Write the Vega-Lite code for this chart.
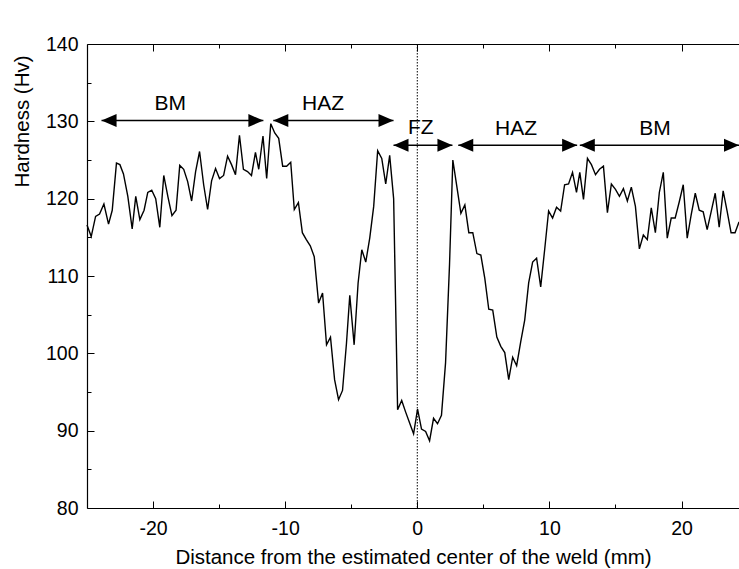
{
  "$schema": "https://vega.github.io/schema/vega-lite/v6.json",
  "width": 652,
  "height": 464,
  "autosize": {"type": "none"},
  "padding": {"left": 87, "top": 44, "right": 0, "bottom": 61},
  "background": "white",
  "config": {"font": "Liberation Sans", "view": {"stroke": null}},
  "resolve": {"axis": {"x": "independent", "y": "independent"}},
  "datasets": {
    "hardness": [
      {"x": -25.0, "h": 116.6}, {"x": -24.68, "h": 115.1}, {"x": -24.35, "h": 117.7}, {"x": -24.05, "h": 118.0},
      {"x": -23.72, "h": 119.3}, {"x": -23.37, "h": 116.7}, {"x": -23.09, "h": 118.5}, {"x": -22.77, "h": 124.6},
      {"x": -22.51, "h": 124.4}, {"x": -22.24, "h": 123.2}, {"x": -21.91, "h": 120.3}, {"x": -21.58, "h": 116.1},
      {"x": -21.31, "h": 120.3}, {"x": -21.0, "h": 117.3}, {"x": -20.68, "h": 118.5}, {"x": -20.4, "h": 120.8},
      {"x": -20.1, "h": 121.1}, {"x": -19.8, "h": 120.0}, {"x": -19.49, "h": 116.3}, {"x": -19.19, "h": 123.0},
      {"x": -18.87, "h": 120.2}, {"x": -18.57, "h": 117.8}, {"x": -18.26, "h": 118.5}, {"x": -17.98, "h": 124.3},
      {"x": -17.68, "h": 123.8}, {"x": -17.38, "h": 122.2}, {"x": -17.08, "h": 119.7}, {"x": -16.78, "h": 123.5},
      {"x": -16.48, "h": 126.1}, {"x": -16.17, "h": 121.8}, {"x": -15.87, "h": 118.6}, {"x": -15.57, "h": 122.3},
      {"x": -15.27, "h": 123.9}, {"x": -14.97, "h": 122.6}, {"x": -14.66, "h": 123.0}, {"x": -14.36, "h": 125.5},
      {"x": -14.06, "h": 124.4}, {"x": -13.76, "h": 123.1}, {"x": -13.46, "h": 128.2}, {"x": -13.16, "h": 123.8},
      {"x": -12.85, "h": 123.5}, {"x": -12.55, "h": 123.0}, {"x": -12.25, "h": 126.0}, {"x": -12.0, "h": 123.8},
      {"x": -11.68, "h": 128.1}, {"x": -11.4, "h": 122.6}, {"x": -11.09, "h": 129.7}, {"x": -10.79, "h": 128.5},
      {"x": -10.49, "h": 127.8}, {"x": -10.19, "h": 124.2}, {"x": -9.89, "h": 124.2}, {"x": -9.58, "h": 124.7},
      {"x": -9.31, "h": 118.6}, {"x": -9.0, "h": 119.5}, {"x": -8.7, "h": 115.6}, {"x": -8.4, "h": 114.7},
      {"x": -8.1, "h": 113.9}, {"x": -7.8, "h": 112.5}, {"x": -7.47, "h": 106.5}, {"x": -7.17, "h": 107.8},
      {"x": -6.87, "h": 101.1}, {"x": -6.57, "h": 102.1}, {"x": -6.26, "h": 96.6}, {"x": -5.96, "h": 94.0},
      {"x": -5.66, "h": 95.2}, {"x": -5.36, "h": 101.3}, {"x": -5.11, "h": 107.5}, {"x": -4.78, "h": 101.1},
      {"x": -4.48, "h": 109.1}, {"x": -4.2, "h": 113.4}, {"x": -3.9, "h": 111.8}, {"x": -3.6, "h": 114.9},
      {"x": -3.3, "h": 119.0}, {"x": -3.0, "h": 126.2}, {"x": -2.69, "h": 125.2}, {"x": -2.39, "h": 121.9},
      {"x": -2.09, "h": 125.6}, {"x": -1.79, "h": 120.0}, {"x": -1.49, "h": 92.7}, {"x": -1.18, "h": 93.9},
      {"x": -0.88, "h": 92.4}, {"x": -0.58, "h": 91.0}, {"x": -0.28, "h": 89.6}, {"x": 0.02, "h": 92.8},
      {"x": 0.32, "h": 90.2}, {"x": 0.63, "h": 89.9}, {"x": 0.93, "h": 88.7}, {"x": 1.23, "h": 91.6},
      {"x": 1.53, "h": 90.9}, {"x": 1.83, "h": 92.0}, {"x": 2.14, "h": 98.8}, {"x": 2.44, "h": 111.5},
      {"x": 2.69, "h": 125.0}, {"x": 3.0, "h": 121.5}, {"x": 3.3, "h": 118.1}, {"x": 3.6, "h": 119.2},
      {"x": 3.9, "h": 115.6}, {"x": 4.2, "h": 115.6}, {"x": 4.51, "h": 112.9}, {"x": 4.81, "h": 112.7},
      {"x": 5.11, "h": 109.7}, {"x": 5.41, "h": 105.7}, {"x": 5.71, "h": 105.6}, {"x": 6.02, "h": 102.1},
      {"x": 6.32, "h": 100.9}, {"x": 6.62, "h": 100.1}, {"x": 6.92, "h": 96.6}, {"x": 7.22, "h": 99.5},
      {"x": 7.52, "h": 98.4}, {"x": 7.83, "h": 101.5}, {"x": 8.13, "h": 104.3}, {"x": 8.43, "h": 109.1},
      {"x": 8.73, "h": 111.8}, {"x": 9.03, "h": 112.3}, {"x": 9.34, "h": 108.6}, {"x": 9.64, "h": 113.4},
      {"x": 9.94, "h": 118.4}, {"x": 10.24, "h": 117.5}, {"x": 10.54, "h": 118.9}, {"x": 10.85, "h": 118.4},
      {"x": 11.15, "h": 121.8}, {"x": 11.45, "h": 121.9}, {"x": 11.75, "h": 123.4}, {"x": 12.05, "h": 120.8},
      {"x": 12.3, "h": 123.4}, {"x": 12.58, "h": 119.9}, {"x": 12.88, "h": 125.2}, {"x": 13.18, "h": 124.4},
      {"x": 13.49, "h": 123.1}, {"x": 13.79, "h": 123.8}, {"x": 14.09, "h": 124.2}, {"x": 14.39, "h": 118.2},
      {"x": 14.69, "h": 121.9}, {"x": 15.0, "h": 121.2}, {"x": 15.3, "h": 120.3}, {"x": 15.6, "h": 121.3},
      {"x": 15.9, "h": 119.7}, {"x": 16.2, "h": 121.5}, {"x": 16.51, "h": 119.0}, {"x": 16.81, "h": 113.5},
      {"x": 17.11, "h": 115.3}, {"x": 17.41, "h": 114.7}, {"x": 17.71, "h": 118.8}, {"x": 18.02, "h": 115.6},
      {"x": 18.32, "h": 120.8}, {"x": 18.62, "h": 123.4}, {"x": 18.92, "h": 114.9}, {"x": 19.22, "h": 117.5},
      {"x": 19.52, "h": 117.5}, {"x": 19.83, "h": 119.6}, {"x": 20.13, "h": 121.8}, {"x": 20.43, "h": 114.9},
      {"x": 20.73, "h": 117.9}, {"x": 21.04, "h": 120.7}, {"x": 21.34, "h": 118.5}, {"x": 21.64, "h": 118.3},
      {"x": 21.94, "h": 116.0}, {"x": 22.24, "h": 118.3}, {"x": 22.55, "h": 120.7}, {"x": 22.85, "h": 116.3},
      {"x": 23.15, "h": 121.0}, {"x": 23.45, "h": 118.4}, {"x": 23.75, "h": 115.6}, {"x": 24.05, "h": 115.6},
      {"x": 24.35, "h": 117.0}
    ],
    "center": [{"x": 0}],
    "arrows": [
      {"x": -23.9, "x2": -11.65, "y": 130.1},
      {"x": -10.9, "x2": -1.8, "y": 130.1},
      {"x": -1.8, "x2": 2.66, "y": 126.9},
      {"x": 3.1, "x2": 12.1, "y": 126.9},
      {"x": 12.3, "x2": 24.35, "y": 126.9}
    ],
    "heads": [
      {"x": -23.9, "y": 130.1, "dir": "L"}, {"x": -11.65, "y": 130.1, "dir": "R"},
      {"x": -10.9, "y": 130.1, "dir": "L"}, {"x": -1.8, "y": 130.1, "dir": "R"},
      {"x": -1.8, "y": 126.9, "dir": "L"}, {"x": 2.66, "y": 126.9, "dir": "R"},
      {"x": 3.1, "y": 126.9, "dir": "L"}, {"x": 12.1, "y": 126.9, "dir": "R"},
      {"x": 12.3, "y": 126.9, "dir": "L"}, {"x": 24.35, "y": 126.9, "dir": "R"}
    ],
    "labels": [
      {"x": -18.7, "y": 132.2, "label": "BM"},
      {"x": -7.13, "y": 132.3, "label": "HAZ"},
      {"x": 0.26, "y": 129.1, "label": "FZ"},
      {"x": 7.47, "y": 129.0, "label": "HAZ"},
      {"x": 18.0, "y": 129.0, "label": "BM"}
    ]
  },
  "layer": [
    {
      "data": {"name": "hardness"},
      "mark": {"type": "line", "color": "black", "strokeWidth": 1.4},
      "encoding": {
        "x": {
          "field": "x", "type": "quantitative",
          "scale": {"domain": [-25, 24.35], "nice": false, "zero": false},
          "axis": {
            "orient": "bottom",
            "values": [-20, -10, 0, 10, 20],
            "labelExpr": "'' + datum.value",
            "tickSize": -7,
            "tickColor": "black", "tickWidth": 1,
            "domainColor": "black", "domainWidth": 1.2,
            "labelFontSize": 19.5, "labelColor": "black", "labelPadding": 18, "labelFlush": false,
            "grid": false,
            "title": "Distance from the estimated center of the weld (mm)",
            "titleFontSize": 20.5, "titleFontWeight": "normal", "titleColor": "black",
            "titleY": 55, "titleBaseline": "alphabetic"
          }
        },
        "y": {
          "field": "h", "type": "quantitative",
          "scale": {"domain": [80, 140], "nice": false, "zero": false},
          "axis": {
            "orient": "left",
            "values": [80, 90, 100, 110, 120, 130, 140],
            "labelExpr": "'' + datum.value",
            "tickSize": -7,
            "tickColor": "black", "tickWidth": 1,
            "domainColor": "black", "domainWidth": 1.2,
            "labelFontSize": 19.5, "labelColor": "black", "labelPadding": 16, "labelFlush": false,
            "grid": false,
            "title": "Hardness (Hv)",
            "titleFontSize": 20.5, "titleFontWeight": "normal", "titleColor": "black",
            "titleX": -65, "titleY": 77, "titleAngle": -90, "titleBaseline": "middle", "titleAlign": "center"
          }
        }
      }
    },
    {
      "data": {"name": "center"},
      "mark": {"type": "rule", "color": "black", "strokeWidth": 1, "strokeDash": [1.5, 1.5]},
      "encoding": {
        "x": {
          "field": "x", "type": "quantitative",
          "scale": {"domain": [-25, 24.35], "nice": false, "zero": false},
          "axis": {
            "orient": "top",
            "values": [-20, -10, 0, 10, 20],
            "labels": false,
            "tickSize": -7,
            "tickColor": "black", "tickWidth": 1,
            "domainColor": "black", "domainWidth": 1.2,
            "grid": false, "title": null
          }
        }
      }
    },
    {
      "data": {"name": "arrows"},
      "mark": {"type": "rule", "color": "black", "strokeWidth": 1.5},
      "encoding": {
        "x": {
          "field": "x", "type": "quantitative",
          "scale": {"domain": [-25, 24.35], "nice": false, "zero": false},
          "axis": {
            "orient": "bottom",
            "values": [-15, -5, 5, 15],
            "labels": false, "domain": false,
            "tickSize": -4, "tickColor": "black", "tickWidth": 1,
            "grid": false, "title": null
          }
        },
        "x2": {"field": "x2"},
        "y": {
          "field": "y", "type": "quantitative",
          "scale": {"domain": [80, 140], "nice": false, "zero": false},
          "axis": {
            "orient": "left",
            "values": [85, 95, 105, 115, 125, 135],
            "labels": false, "domain": false,
            "tickSize": -4, "tickColor": "black", "tickWidth": 1,
            "grid": false, "title": null
          }
        }
      }
    },
    {
      "data": {"name": "heads"},
      "mark": {"type": "point", "filled": true, "color": "black", "opacity": 1, "size": 900, "strokeWidth": 0},
      "encoding": {
        "x": {
          "field": "x", "type": "quantitative",
          "scale": {"domain": [-25, 24.35], "nice": false, "zero": false},
          "axis": {
            "orient": "top",
            "values": [-15, -5, 5, 15],
            "labels": false, "domain": false,
            "tickSize": -4, "tickColor": "black", "tickWidth": 1,
            "grid": false, "title": null
          }
        },
        "y": {"field": "y", "type": "quantitative", "scale": {"domain": [80, 140], "nice": false, "zero": false}, "axis": null},
        "shape": {
          "field": "dir", "type": "nominal",
          "scale": {"domain": ["L", "R"], "range": ["M0,0L1,-0.43L1,0.43Z", "M0,0L-1,-0.43L-1,0.43Z"]},
          "legend": null
        }
      }
    },
    {
      "data": {"name": "labels"},
      "mark": {"type": "text", "color": "black", "fontSize": 21, "align": "center", "baseline": "middle"},
      "encoding": {
        "x": {"field": "x", "type": "quantitative", "scale": {"domain": [-25, 24.35], "nice": false, "zero": false}, "axis": null},
        "y": {"field": "y", "type": "quantitative", "scale": {"domain": [80, 140], "nice": false, "zero": false}, "axis": null},
        "text": {"field": "label"}
      }
    }
  ]
}
